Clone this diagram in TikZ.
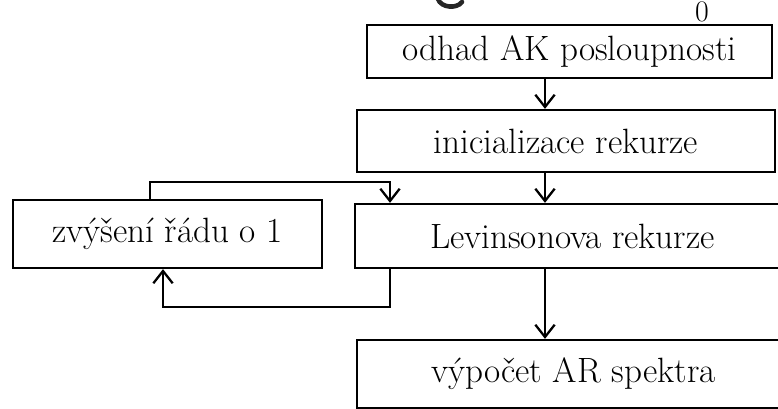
\documentclass[tikz,border=0pt]{standalone}
\usetikzlibrary{arrows.meta}

\begin{document}
\begin{tikzpicture}[x=0.02cm, y=-0.02cm, line width=1.3pt,
    >={Straight Barb[length=7pt,width=11pt]},
    blok/.style = {draw, rectangle, inner sep=2pt, font=\fontsize{20}{24}\selectfont}]
    \useasboundingbox (0,0) rectangle (778,409);
    % Nakresli bloky schematu
    \node[blok, minimum width=8.1cm, minimum height=1.06cm] (odhad) at (569.5,51.5) {odhad AK posloupnosti};
    \node[blok, minimum width=8.36cm, minimum height=1.24cm] (inic) at (566,141) {inicializace rekurze};
    \node[blok, minimum width=8.7cm, minimum height=1.28cm] (lev) at (572.5,236) {Levinsonova rekurze};
    \node[blok, minimum width=6.18cm, minimum height=1.36cm] (zvys) at (167.5,234) {zvýšení řádu o 1};
    \node[blok, minimum width=8.66cm, minimum height=1.36cm] (vyp) at (573.5,374) {výpočet AR spektra};
    \node[font=\fontsize{17}{17}\selectfont] (nula) at (702,12) {0};
    % zbytek nadpisu nahore
    \draw[line width=2.6pt, black!85, line cap=round] (438,-1) .. controls (441,8) and (457,9) .. (462,2);

    \coordinate (stred) at (545,0);
    \coordinate (zpet) at (390,0);
    \coordinate (vlevo) at (163,0);
    \coordinate (nahoru) at (150,0);

    \draw[->] (odhad.south -| stred) -- (inic.north -| stred);
    \draw[->] (inic.south -| stred) -- (lev.north -| stred);
    \draw[->] (lev.south -| stred) -- (vyp.north -| stred);
    \draw[->] (zvys.north -| nahoru) -- ++(0,-17) -| (lev.north -| zpet);
    \draw[->] (lev.south -| zpet) -- ++(0,38) -| (zvys.south -| vlevo);
\end{tikzpicture}
\end{document}
